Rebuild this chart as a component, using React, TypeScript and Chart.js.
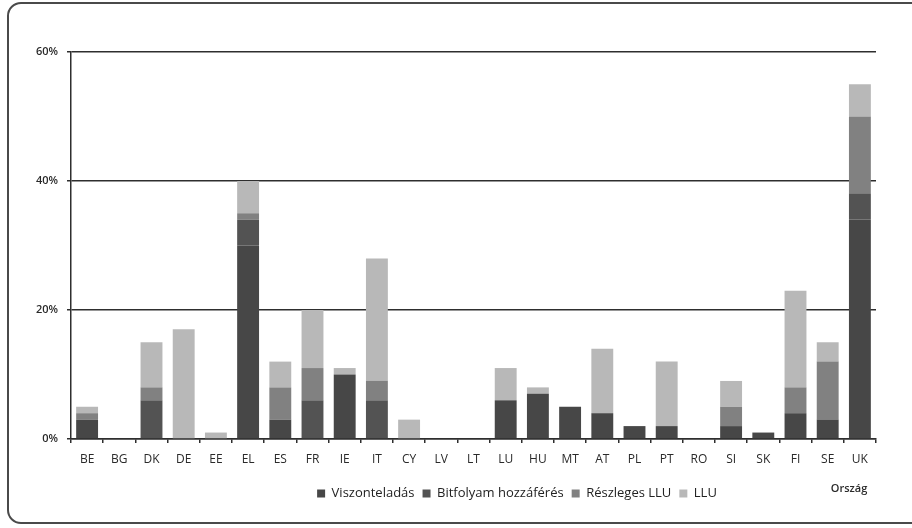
import React, { useEffect, useRef } from "react";
import { Chart, registerables } from "chart.js";

Chart.register(...registerables);

const countries = [
  "BE", "BG", "DK", "DE", "EE", "EL", "ES", "FR", "IE", "IT", "CY", "LV", "LT",
  "LU", "HU", "MT", "AT", "PL", "PT", "RO", "SI", "SK", "FI", "SE", "UK",
];

// shares in percent, one value per country
const viszonteladas = [3, 0, 0, 0, 0, 30, 3, 0, 10, 0, 0, 0, 0, 6, 7, 5, 4, 2, 2, 0, 2, 1, 4, 3, 34];
const bitfolyam = [0, 0, 6, 0, 0, 4, 0, 6, 0, 6, 0, 0, 0, 0, 0, 0, 0, 0, 0, 0, 0, 0, 0, 0, 4];
const reszlegesLLU = [1, 0, 2, 0, 0, 1, 5, 5, 0, 3, 0, 0, 0, 0, 0, 0, 0, 0, 0, 0, 3, 0, 4, 9, 12];
const llu = [1, 0, 7, 17, 1, 5, 4, 9, 1, 19, 3, 0, 0, 5, 1, 0, 10, 0, 10, 0, 4, 0, 15, 3, 5];

const yTicks = [0, 20, 40, 60];
const axisTitle = "Ország";

const FONT = "'Open Sans', 'DejaVu Sans', sans-serif";

export default function App() {
  const canvasRef = useRef<HTMLCanvasElement | null>(null);

  useEffect(() => {
    document.body.style.margin = "0";
    const canvas = canvasRef.current;
    if (!canvas) return;

    // centres the legend row under the bars and writes the axis name
    const extras = {
      id: "extras",
      afterLayout(chart: any) {
        const lg = chart.legend;
        if (lg) {
          const shift = 517 - (lg.left + lg.right) / 2;
          lg.left += shift;
          lg.right += shift;
        }
      },
      afterDraw(chart: any) {
        const ctx = chart.ctx;
        const x = chart.scales.x;
        ctx.save();
        ctx.font = `600 11px ${FONT}`;
        ctx.fillStyle = "#2a2a2a";
        ctx.textAlign = "center";
        ctx.textBaseline = "middle";
        ctx.fillText(axisTitle, chart.chartArea.right - 27, x.bottom + 10);
        ctx.restore();
      },
    };

    const chart = new Chart(canvas, {
      type: "bar",
      data: {
        labels: countries,
        datasets: [
          { label: "Viszonteladás", data: viszonteladas, backgroundColor: "#474747" },
          { label: "Bitfolyam hozzáférés", data: bitfolyam, backgroundColor: "#535353" },
          { label: "Részleges LLU", data: reszlegesLLU, backgroundColor: "#818181" },
          { label: "LLU", data: llu, backgroundColor: "#b8b8b8" },
        ],
      },
      options: {
        responsive: false,
        animation: false,
        devicePixelRatio: 1,
        layout: { padding: { top: 52, right: 36, bottom: 18, left: 0 } },
        datasets: {
          bar: { categoryPercentage: 1, barPercentage: 0.68, borderWidth: 0 },
        },
        scales: {
          x: {
            stacked: true,
            offset: true,
            afterFit: (s: any) => {
              s.height = 40;
            },
            grid: {
              display: true,
              drawOnChartArea: false,
              drawTicks: true,
              tickLength: 4,
              offset: true,
              color: "#2e2e2e",
              lineWidth: 1.5,
            },
            border: { display: true, color: "#2e2e2e", width: 1.5 },
            ticks: {
              color: "#2a2a2a",
              padding: 9,
              autoSkip: false,
              maxRotation: 0,
              font: { family: FONT, size: 12 },
            },
          },
          y: {
            stacked: true,
            min: 0,
            max: 60,
            afterFit: (s: any) => {
              s.width = 71;
            },
            afterBuildTicks: (s: any) => {
              s.ticks = yTicks.map((v) => ({ value: v }));
            },
            grid: {
              color: "#2e2e2e",
              lineWidth: 1.5,
              tickLength: 4,
              drawTicks: true,
            },
            border: { display: true, color: "#2e2e2e", width: 1.5 },
            ticks: {
              color: "#2a2a2a",
              padding: 9,
              font: { family: FONT, size: 11, weight: "600" },
              callback: (v: any) => `${v}%`,
            },
          },
        },
        plugins: {
          legend: {
            position: "bottom",
            labels: {
              boxWidth: 8,
              boxHeight: 8,
              padding: 8,
              color: "#222",
              font: { family: FONT, size: 13 },
            },
          },
          tooltip: { enabled: false },
        },
      },
      plugins: [extras],
    });

    return () => chart.destroy();
  }, []);

  return (
    <div style={{ position: "fixed", left: 0, top: 0, width: 912, height: 528, overflow: "hidden", background: "#fff" }}>
      <div
        style={{
          position: "absolute",
          left: 7,
          top: 2,
          width: 940,
          height: 522,
          border: "2px solid #4a4a4a",
          borderRadius: 14,
          boxSizing: "border-box",
        }}
      />
      <canvas ref={canvasRef} width={912} height={528} style={{ position: "absolute", left: 0, top: 0, width: 912, height: 528 }} />
    </div>
  );
}
